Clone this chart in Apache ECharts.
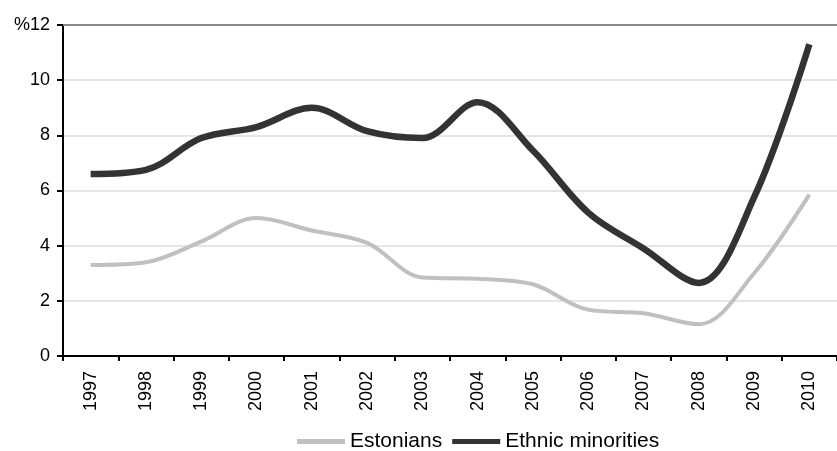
<!DOCTYPE html>
<html>
<head>
<meta charset="utf-8">
<script src="https://cdn.jsdelivr.net/npm/echarts@6/dist/echarts.min.js"></script>
<style>
  html, body { margin: 0; padding: 0; background: #fff; }
  #chart { width: 837px; height: 451px; }
</style>
</head>
<body>
<div id="chart"></div>
<script>
// Unemployment rate by year, percent
const years = ['1997','1998','1999','2000','2001','2002','2003','2004','2005','2006','2007','2008','2009','2010'];
const estonians = [3.3, 3.4, 4.15, 5.0, 4.55, 4.1, 2.85, 2.8, 2.6, 1.68, 1.55, 1.15, 3.0, 5.85];
const minorities = [6.6, 6.75, 7.9, 8.3, 9.0, 8.15, 7.9, 9.2, 7.45, 5.2, 3.9, 2.65, 5.75, 11.3];
const yTicks = { min: 0, max: 12, step: 2 };

const chart = echarts.init(document.getElementById('chart'), null, { renderer: 'canvas' });
const font = '"Liberation Sans", Arial, sans-serif';

chart.setOption({
  animation: false,
  backgroundColor: '#fff',
  grid: { left: 63, top: 25, bottom: 95, width: 783, containLabel: false },
  legend: {
    left: 292,
    top: 426,
    itemWidth: 48,
    itemHeight: 5,
    itemGap: 10,
    icon: 'rect',
    textStyle: { fontFamily: font, fontSize: 21, color: '#000' },
    data: ['Estonians', 'Ethnic minorities']
  },
  xAxis: [{
    type: 'category',
    data: years,
    boundaryGap: true,
    axisLine: { lineStyle: { color: '#000', width: 2 } },
    axisTick: { show: true, length: 5, lineStyle: { color: '#000', width: 2 } },
    axisLabel: { rotate: 90, margin: 15, fontFamily: font, fontSize: 18, color: '#000', interval: 0 },
    splitLine: { show: false }
  }, {
    // top border of the plot area
    type: 'category',
    data: years,
    position: 'top',
    axisLine: { show: true, lineStyle: { color: '#888', width: 2 } },
    axisTick: { show: false },
    axisLabel: { show: false }
  }],
  yAxis: {
    type: 'value',
    min: yTicks.min,
    max: yTicks.max,
    interval: yTicks.step,
    axisLine: { show: true, lineStyle: { color: '#000', width: 2 } },
    axisTick: { show: true, length: 6, lineStyle: { color: '#000', width: 2 } },
    axisLabel: {
      margin: 13,
      fontFamily: font, fontSize: 18, color: '#000',
      formatter: v => v === yTicks.max ? '%' + v : String(v)
    },
    splitLine: { show: true, lineStyle: { color: '#dcdcdc', width: 1.5 } }
  },
  series: [{
    name: 'Estonians',
    type: 'line',
    data: estonians,
    smooth: 0.35,
    symbol: 'none',
    itemStyle: { color: '#c0c0c0' },
    lineStyle: { color: '#c0c0c0', width: 4 }
  }, {
    name: 'Ethnic minorities',
    type: 'line',
    data: minorities,
    smooth: 0.35,
    symbol: 'none',
    itemStyle: { color: '#333333' },
    lineStyle: { color: '#333333', width: 6.5 }
  }]
});
</script>
</body>
</html>
